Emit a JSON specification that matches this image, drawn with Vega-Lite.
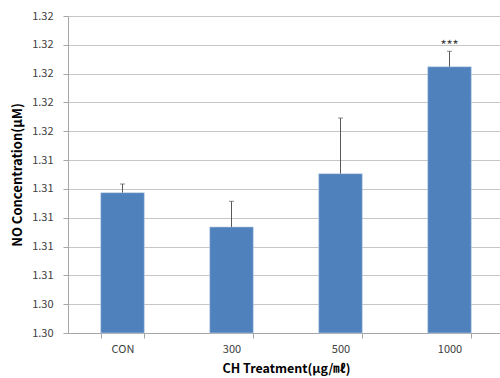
{
  "$schema": "https://vega.github.io/schema/vega-lite/v6.json",
  "width": 436,
  "height": 317,
  "autosize": {"type": "none"},
  "padding": {"left": 68, "top": 16, "right": 0, "bottom": 45},
  "background": "white",
  "config": {
    "view": {"stroke": null},
    "font": "Noto Sans CJK KR",
    "axis": {
      "labelFont": "Noto Sans CJK KR",
      "titleFont": "Noto Sans CJK KR",
      "labelColor": "#404040",
      "titleColor": "#000000",
      "domainColor": "#a6a6a6",
      "tickColor": "#a6a6a6",
      "gridColor": "#c6c6c6",
      "labelFontSize": 11,
      "titleFontSize": 12,
      "titleFontWeight": "bold",
      "labelOverlap": false
    }
  },
  "data": {
    "values": [
      {"group": "CON", "mean": 1.31174, "upper": 1.31234, "sig": ""},
      {"group": "300", "mean": 1.30936, "upper": 1.31114, "sig": ""},
      {"group": "500", "mean": 1.31306, "upper": 1.31692, "sig": ""},
      {"group": "1000", "mean": 1.32048, "upper": 1.32155, "sig": "***"}
    ]
  },
  "encoding": {
    "x": {
      "field": "group",
      "type": "nominal",
      "sort": ["CON", "300", "500", "1000"],
      "scale": {"paddingInner": 0.6, "paddingOuter": 0.3},
      "axis": {
        "title": "CH Treatment(μg/㎖)",
        "titleFontSize": 12.5,
        "labelAngle": 0,
        "tickBand": "extent",
        "tickSize": 5,
        "labelPadding": 5,
        "titleY": 35,
        "titleBaseline": "middle",
        "grid": false
      }
    }
  },
  "layer": [
    {
      "mark": {"type": "bar", "color": "#4f81bd", "stroke": "#c5d4e8", "strokeWidth": 0.6},
      "encoding": {
        "y": {
          "field": "mean",
          "type": "quantitative",
          "scale": {"domain": [1.302, 1.324], "zero": false, "nice": false},
          "axis": {
            "title": "NO Concentration(µM)",
            "titleFontSize": 13,
            "values": [1.302, 1.304, 1.306, 1.308, 1.31, 1.312, 1.314, 1.316, 1.318, 1.32, 1.322, 1.324],
            "tickCount": 12,
            "format": ".2f",
            "tickSize": 5,
            "labelPadding": 10,
            "grid": true,
            "titleX": -51,
            "titleBaseline": "middle"
          }
        },
        "y2": {"datum": 1.302}
      }
    },
    {
      "mark": {"type": "rule", "color": "#595959", "strokeWidth": 1},
      "encoding": {
        "y": {"field": "mean", "type": "quantitative"},
        "y2": {"field": "upper"}
      }
    },
    {
      "mark": {"type": "tick", "color": "#595959", "orient": "horizontal", "size": 5, "thickness": 1},
      "encoding": {
        "y": {"field": "upper", "type": "quantitative"}
      }
    },
    {
      "mark": {"type": "text", "baseline": "bottom", "fontSize": 13, "color": "#404040", "dy": 2},
      "encoding": {
        "y": {"field": "upper", "type": "quantitative"},
        "text": {"field": "sig"}
      }
    }
  ]
}
